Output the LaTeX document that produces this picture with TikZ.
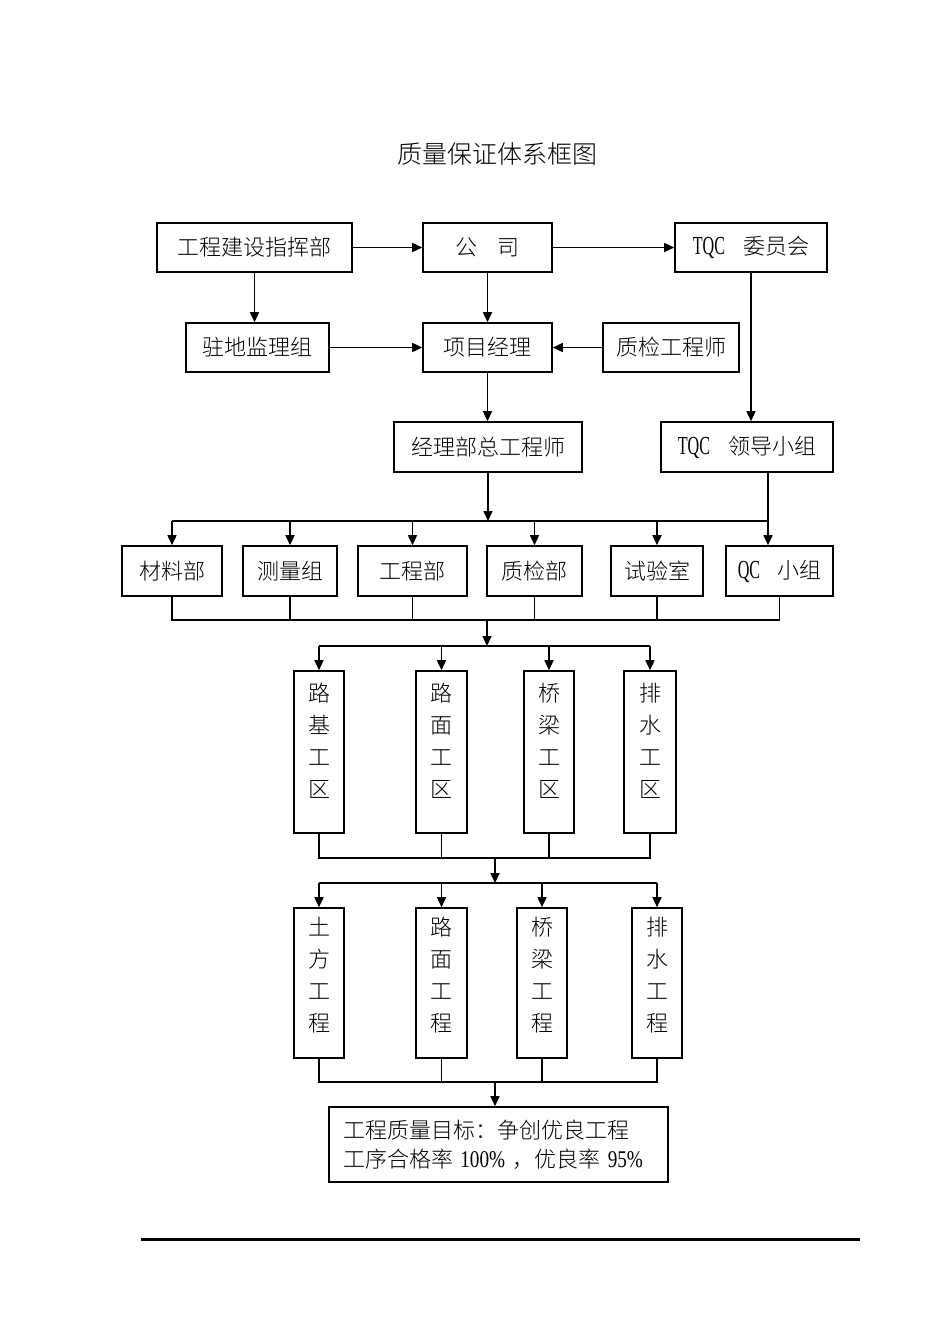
\documentclass[tikz,border=0pt]{standalone}
\usepackage{fontspec}
\setmainfont{Liberation Serif}
\newfontfamily\cjk{Noto Sans CJK SC}[UprightFont=* Light]
\newfontfamily\lat{Liberation Serif}[FakeStretch=0.62]
\newfontfamily\num{Liberation Serif}[FakeStretch=0.8]
\usetikzlibrary{calc,positioning,arrows.meta}

\newcommand{\colchars}[2]{\begin{tabular}{@{}c@{}}#1\\[#2]\end{tabular}}
\newcommand{\latin}[1]{{\lat\fontsize{13}{16}\selectfont #1}}
\newcommand{\digits}[1]{{\num\fontsize{12}{14.5}\selectfont #1}}

\begin{document}
\begin{tikzpicture}[x=0.5pt,y=-0.5pt,line width=0.8pt]
\tikzstyle{box} = [draw, rectangle, inner sep=0pt, minimum height=24.5pt, font=\cjk\fontsize{11}{16}\selectfont];
\tikzstyle{arr} = [-{Triangle[length=5pt,width=4.5pt]}];
\useasboundingbox (0,0) rectangle (950,1344);

\node[font=\cjk\fontsize{12.5}{12.5}\selectfont] (title) at (497,154) {质量保证体系框图};

% top rows
\node[box, minimum width=97.5pt] (hq) at (254.5,247.5) {工程建设指挥部};
\node[box, minimum width=64.5pt] (co) at (487.5,247.5) {公\hspace{10pt}司};
\node[box, minimum width=76pt] (tc) at (751,247.5) {\latin{TQC}\hspace{9pt}委员会};
\node[box, minimum width=71.5pt] (jl) at (257.5,347.5) {驻地监理组};
\node[box, minimum width=64.5pt] (pm) at (487.5,347.5) {项目经理};
\node[box, minimum width=68pt] (qe) at (671,347.5) {质检工程师};
\node[box, minimum width=94pt, minimum height=25pt] (ce) at (488,447) {经理部总工程师};
\node[box, minimum width=86pt, minimum height=25pt] (tl) at (747,447) {\latin{TQC}\hspace{9pt}领导小组};

\draw[arr] (hq) -- (co);
\draw[arr] (co) -- (tc);
\draw[arr] (hq.south) -- (hq.south |- jl.north);
\draw[arr] (co) -- (pm);
\draw[arr] (jl) -- (pm);
\draw[arr] (qe) -- (pm);
\draw[arr] (pm.south) -- (pm.south |- ce.north);
\draw[arr] (tc.south) -- (tc.south |- tl.north);

% departments
\node[box, minimum width=50pt, minimum height=25pt] (cl) at (172,571) {材料部};
\node[box, minimum width=47pt, minimum height=25pt] (cs) at (290,571) {测量组};
\node[box, minimum width=54.5pt, minimum height=25pt] (gc) at (412.5,571) {工程部};
\node[box, minimum width=47.5pt, minimum height=25pt] (zj) at (534.5,571) {质检部};
\node[box, minimum width=46pt, minimum height=25pt] (sy) at (657,571) {试验室};
\node[box, minimum width=53.5pt, minimum height=25pt] (qc) at (779.5,571) {\latin{QC}\hspace{8.5pt}小组};

\coordinate (b1) at (487,521);
\coordinate (t1) at (768,521);
\draw[arr] (ce.south) -- (ce.south |- b1);
\draw (tl.south -| t1) -- (t1);
\draw (cl.north |- b1) -- (t1);
\draw[arr] (cl.north |- b1) -- (cl.north);
\draw[arr] (cs.north |- b1) -- (cs.north);
\draw[arr] (gc.north |- b1) -- (gc.north);
\draw[arr] (zj.north |- b1) -- (zj.north);
\draw[arr] (sy.north |- b1) -- (sy.north);
\draw[arr] (t1) -- (qc.north -| t1);

\coordinate (b2) at (487,620);
\coordinate (b3) at (487,646);
\draw (cl.south) -- (cl.south |- b2) -| (qc.south);
\draw (cs.south) -- (cs.south |- b2);
\draw (gc.south) -- (gc.south |- b2);
\draw (zj.south) -- (zj.south |- b2);
\draw (sy.south) -- (sy.south |- b2);
\draw[arr] (b2) -- (b3);

% work areas
\node[box, minimum width=25pt, minimum height=81pt] (q1) at (319,752) {\colchars{路\\基\\工\\区}{9pt}};
\node[box, minimum width=25.5pt, minimum height=81pt] (q2) at (441.5,752) {\colchars{路\\面\\工\\区}{9pt}};
\node[box, minimum width=25pt, minimum height=81pt] (q3) at (549,752) {\colchars{桥\\梁\\工\\区}{9pt}};
\node[box, minimum width=26pt, minimum height=81pt] (q4) at (650,752) {\colchars{排\\水\\工\\区}{9pt}};

\draw (q1.north |- b3) -- (q4.north |- b3);
\draw[arr] (q1.north |- b3) -- (q1.north);
\draw[arr] (q2.north |- b3) -- (q2.north);
\draw[arr] (q3.north |- b3) -- (q3.north);
\draw[arr] (q4.north |- b3) -- (q4.north);

\coordinate (b4) at (495,858);
\coordinate (b5) at (495,883);
\draw (q1.south) -- (q1.south |- b4) -| (q4.south);
\draw (q2.south) -- (q2.south |- b4);
\draw (q3.south) -- (q3.south |- b4);
\draw[arr] (b4) -- (b5);

% works
\node[box, minimum width=25pt, minimum height=75pt] (g1) at (319,983) {\colchars{土\\方\\工\\程}{6pt}};
\node[box, minimum width=25.5pt, minimum height=75pt] (g2) at (441.5,983) {\colchars{路\\面\\工\\程}{6pt}};
\node[box, minimum width=25pt, minimum height=75pt] (g3) at (542,983) {\colchars{桥\\梁\\工\\程}{6pt}};
\node[box, minimum width=25pt, minimum height=75pt] (g4) at (657,983) {\colchars{排\\水\\工\\程}{6pt}};

\draw (g1.north |- b5) -- (g4.north |- b5);
\draw[arr] (g1.north |- b5) -- (g1.north);
\draw[arr] (g2.north |- b5) -- (g2.north);
\draw[arr] (g3.north |- b5) -- (g3.north);
\draw[arr] (g4.north |- b5) -- (g4.north);

\coordinate (b6) at (495,1082);
\draw (g1.south) -- (g1.south |- b6) -| (g4.south);
\draw (g2.south) -- (g2.south |- b6);
\draw (g3.south) -- (g3.south |- b6);

\node[box, minimum width=169.5pt, minimum height=37.5pt, inner xsep=7pt, text width=155.5pt, align=left, font=\cjk\fontsize{11}{14.5}\selectfont] (goal) at (498.5,1144.5) {工程质量目标：争创优良工程\\工序合格率 \digits{100\%} ，优良率 \digits{95\%}};
\draw[arr] (b6) -- (b6 |- goal.north);

\coordinate (r1) at (141,1239);
\coordinate (r2) at (860,1239);
\draw[line width=1.5pt] (r1) -- (r2);
\end{tikzpicture}
\end{document}
